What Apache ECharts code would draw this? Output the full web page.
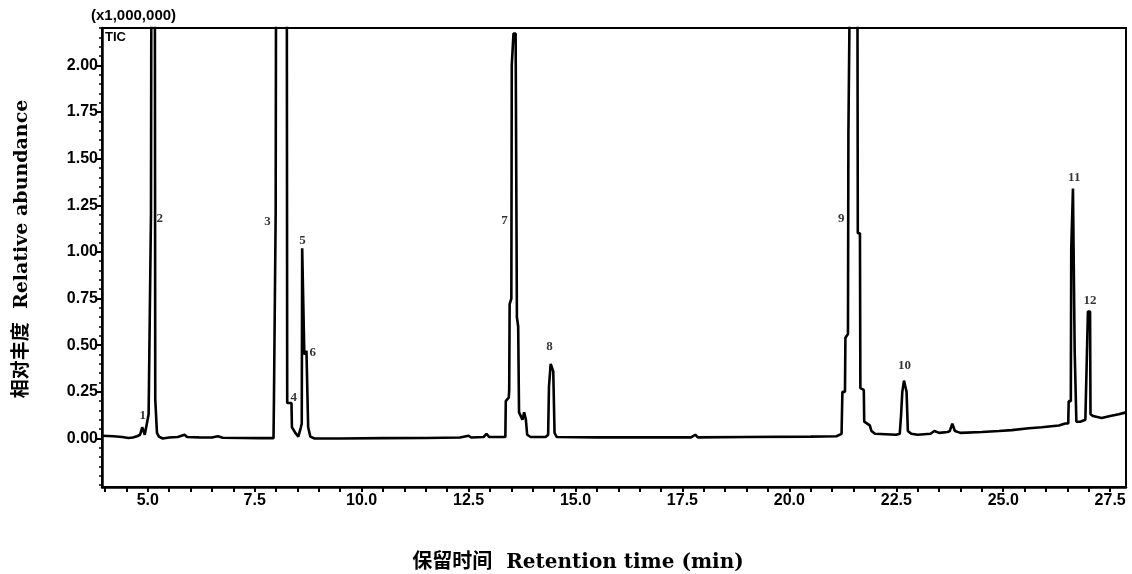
<!DOCTYPE html>
<html>
<head>
<meta charset="utf-8">
<script src="https://cdn.jsdelivr.net/npm/echarts@6/dist/echarts.min.js"></script>
<style>
html,body{margin:0;padding:0;background:#fff;}
#chart{width:1132px;height:574px;}
</style>
</head>
<body>
<div id="chart"></div>
<script>
// Retention time (min) of trace points
var times = [3.93,4.2,4.4,4.55,4.65,4.75,4.82,4.87,4.9,4.93,4.97,5.02,5.065,5.075,5.085,5.165,5.175,5.205,5.215,5.26,5.35,5.5,5.7,5.86,5.92,6.2,6.5,6.64,6.75,7.2,7.6,7.94,7.95,7.98,7.99,8.0,8.25,8.26,8.36,8.37,8.45,8.52,8.56,8.58,8.6,8.61,8.65,8.66,8.71,8.73,8.75,8.8,8.9,9.5,10.5,11.5,12.3,12.5,12.56,12.85,12.92,12.98,13.36,13.37,13.44,13.45,13.46,13.5,13.51,13.55,13.6,13.63,13.66,13.68,13.76,13.8,13.84,13.87,13.95,14.3,14.36,14.38,14.42,14.45,14.48,14.51,14.56,15.5,16.5,17.7,17.8,17.86,19.0,20.5,21.1,21.22,21.24,21.3,21.31,21.37,21.38,21.41,21.42,21.59,21.6,21.65,21.66,21.74,21.75,21.88,21.92,22.0,22.5,22.58,22.61,22.64,22.68,22.71,22.74,22.77,22.85,23.0,23.3,23.39,23.5,23.7,23.75,23.81,23.87,24.0,24.5,24.9,25.2,25.6,25.9,26.3,26.45,26.52,26.53,26.58,26.59,26.62,26.63,26.66,26.67,26.7,26.71,26.8,26.92,26.93,26.97,26.98,27.03,27.04,27.1,27.3,27.5,27.7,27.87];
// Relative abundance (x1,000,000)
var abundance = [0.015,0.012,0.008,0.003,0.005,0.012,0.02,0.06,0.055,0.02,0.02,0.13,0.13,1.2,2.6,2.6,0.21,0.21,0.03,0.01,0.0,0.005,0.008,0.02,0.008,0.006,0.005,0.012,0.004,0.003,0.002,0.002,0.21,0.21,1.2,2.6,2.6,0.19,0.19,0.06,0.03,0.01,0.01,0.06,0.08,1.02,1.02,0.45,0.47,0.47,0.06,0.01,0.0,0.0,0.002,0.003,0.005,0.015,0.005,0.008,0.025,0.008,0.008,0.2,0.22,0.26,0.72,0.75,2.0,2.17,2.17,0.65,0.6,0.14,0.1,0.14,0.1,0.02,0.008,0.008,0.02,0.28,0.4,0.38,0.36,0.03,0.008,0.006,0.006,0.006,0.02,0.006,0.008,0.01,0.012,0.025,0.25,0.25,0.54,0.56,1.63,1.63,2.6,2.6,1.1,1.1,0.27,0.26,0.09,0.07,0.04,0.025,0.02,0.025,0.12,0.25,0.31,0.28,0.25,0.04,0.025,0.02,0.025,0.04,0.03,0.035,0.04,0.08,0.04,0.03,0.035,0.04,0.045,0.055,0.06,0.07,0.08,0.08,0.2,0.2,1.02,1.02,1.34,1.34,0.47,0.47,0.09,0.09,0.1,0.2,0.2,0.68,0.68,0.13,0.12,0.11,0.12,0.13,0.14];
// Peak number labels
var peakNames = ['1','2','3','4','5','6','7','8','9','10','11','12'];
var peakLabelTimes = [4.88,5.28,7.80,8.41,8.62,8.86,13.34,14.39,21.21,22.69,26.66,27.03];
var peakLabelValues = [0.12,1.18,1.16,0.22,1.06,0.46,1.17,0.49,1.18,0.39,1.40,0.74];
// Tick labels
var xTickLabels = [5.0,7.5,10.0,12.5,15.0,17.5,20.0,22.5,25.0,27.5];
var yTickLabels = [0.00,0.25,0.50,0.75,1.00,1.25,1.50,1.75,2.00];

var xMinorTicks = [];
for (var i = 8; i <= 55; i++) xMinorTicks.push(i / 2);
var yMinorTicks = [];
for (var j = -5; j <= 44; j++) yMinorTicks.push(Math.round(j * 5) / 100);

var trace = times.map(function (t, k) { return [t, abundance[k]]; });
var labelsData = peakNames.map(function (n, k) { return { name: n, value: [peakLabelTimes[k], peakLabelValues[k]] }; });

var tickFont = { fontFamily: 'Liberation Sans Narrow, Liberation Sans, Arial', fontWeight: 'bold', fontSize: 16, color: '#000' };
var titleFont = 'bold 20px "DejaVu Serif", "Noto Sans CJK SC"';

var chart = echarts.init(document.getElementById('chart'));
chart.setOption({
  animation: false,
  backgroundColor: '#fff',
  grid: { left: 102, right: 6, top: 28, bottom: 87, show: true, borderColor: '#000', borderWidth: 2, backgroundColor: 'transparent' },
  xAxis: [{
    type: 'value', min: 3.93, max: 27.87,
    axisLine: { show: true, onZero: false, lineStyle: { color: '#000', width: 2.5 } },
    axisTick: { show: true, customValues: xMinorTicks, length: 5, lineStyle: { color: '#000', width: 2 } },
    axisLabel: Object.assign({ customValues: xTickLabels, margin: 6, formatter: function (v) { return v.toFixed(1); } }, tickFont),
    splitLine: { show: false }
  }],
  yAxis: [{
    type: 'value', min: -0.26, max: 2.2,
    axisLine: { show: true, onZero: false, lineStyle: { color: '#000', width: 2.5 } },
    axisTick: { show: true, customValues: yTickLabels, length: 6, lineStyle: { color: '#000', width: 2 } },
    axisLabel: Object.assign({ customValues: yTickLabels, margin: 4, formatter: function (v) { return v.toFixed(2); } }, tickFont),
    splitLine: { show: false }
  }, {
    type: 'value', min: -0.26, max: 2.2, position: 'left', offset: 0,
    axisLine: { show: false },
    axisTick: { show: true, customValues: yMinorTicks, length: 3, lineStyle: { color: '#000', width: 1.5 } },
    axisLabel: { show: false },
    splitLine: { show: false }
  }],
  graphic: [
    { type: 'text', left: 91, top: 8, style: { text: '(x1,000,000)', font: 'bold 15px "Liberation Sans Narrow", "Liberation Sans", Arial', fill: '#000' } },
    { type: 'text', left: 105, top: 31, style: { text: 'TIC', font: 'bold 13px "Liberation Sans Narrow", "Liberation Sans", Arial', fill: '#000' } },
    { type: 'text', x: 578, y: 563, style: { text: '保留时间  Retention time (min)', font: titleFont, fill: '#000', align: 'center', verticalAlign: 'middle' } },
    { type: 'text', x: 22, y: 249, rotation: Math.PI / 2, style: { text: '相对丰度  Relative abundance', font: 'bold 19px "DejaVu Serif", "Noto Sans CJK SC"', fill: '#000', align: 'center', verticalAlign: 'middle' } }
  ],
  series: [{
    type: 'line', data: trace, showSymbol: false, symbol: 'none', clip: true,
    lineStyle: { color: '#000', width: 2.6 }, silent: true
  }, {
    type: 'scatter', data: labelsData, symbolSize: 0, silent: true,
    label: { show: true, position: 'inside', formatter: '{b}', fontFamily: 'Liberation Serif, Times New Roman', fontWeight: 'bold', fontSize: 13, color: '#000' }
  }]
});
</script>
</body>
</html>
